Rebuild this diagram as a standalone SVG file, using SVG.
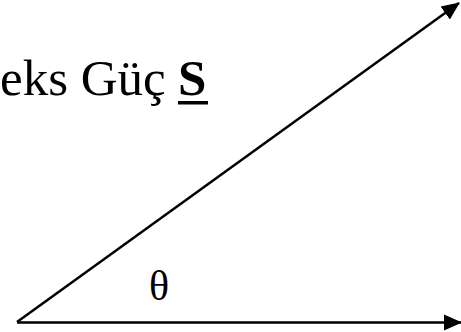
<svg xmlns="http://www.w3.org/2000/svg" width="461" height="332" viewBox="0 0 461 332">
<defs>
<style>
.t{font-family:"Liberation Serif","Times New Roman",serif;fill:#000}
.c{stroke:#000;stroke-width:2.5;fill:none}
</style>
<marker id="ah" markerUnits="userSpaceOnUse" markerWidth="18" markerHeight="18" viewBox="0 0 18 18" refX="17" refY="9" orient="auto">
<path d="M0,1 L18,9 L0,17 z" fill="#000"/>
</marker>
</defs>
<g id="label-s">
<text class="t" x="0" y="95" font-size="51">eks Güç</text>
<text class="t" x="178" y="95" font-size="51" font-weight="bold">S</text>
<rect x="178" y="101" width="30" height="3.5" fill="#000"/>
</g>
<g id="label-theta">
<text class="t" x="159" y="300" font-size="42" text-anchor="middle">θ</text>
</g>
<g id="connectors">
<line class="c" x1="17" y1="322" x2="459" y2="3" marker-end="url(#ah)"/>
<line class="c" x1="17" y1="322.5" x2="461" y2="322.5" marker-end="url(#ah)"/>
</g>
</svg>
